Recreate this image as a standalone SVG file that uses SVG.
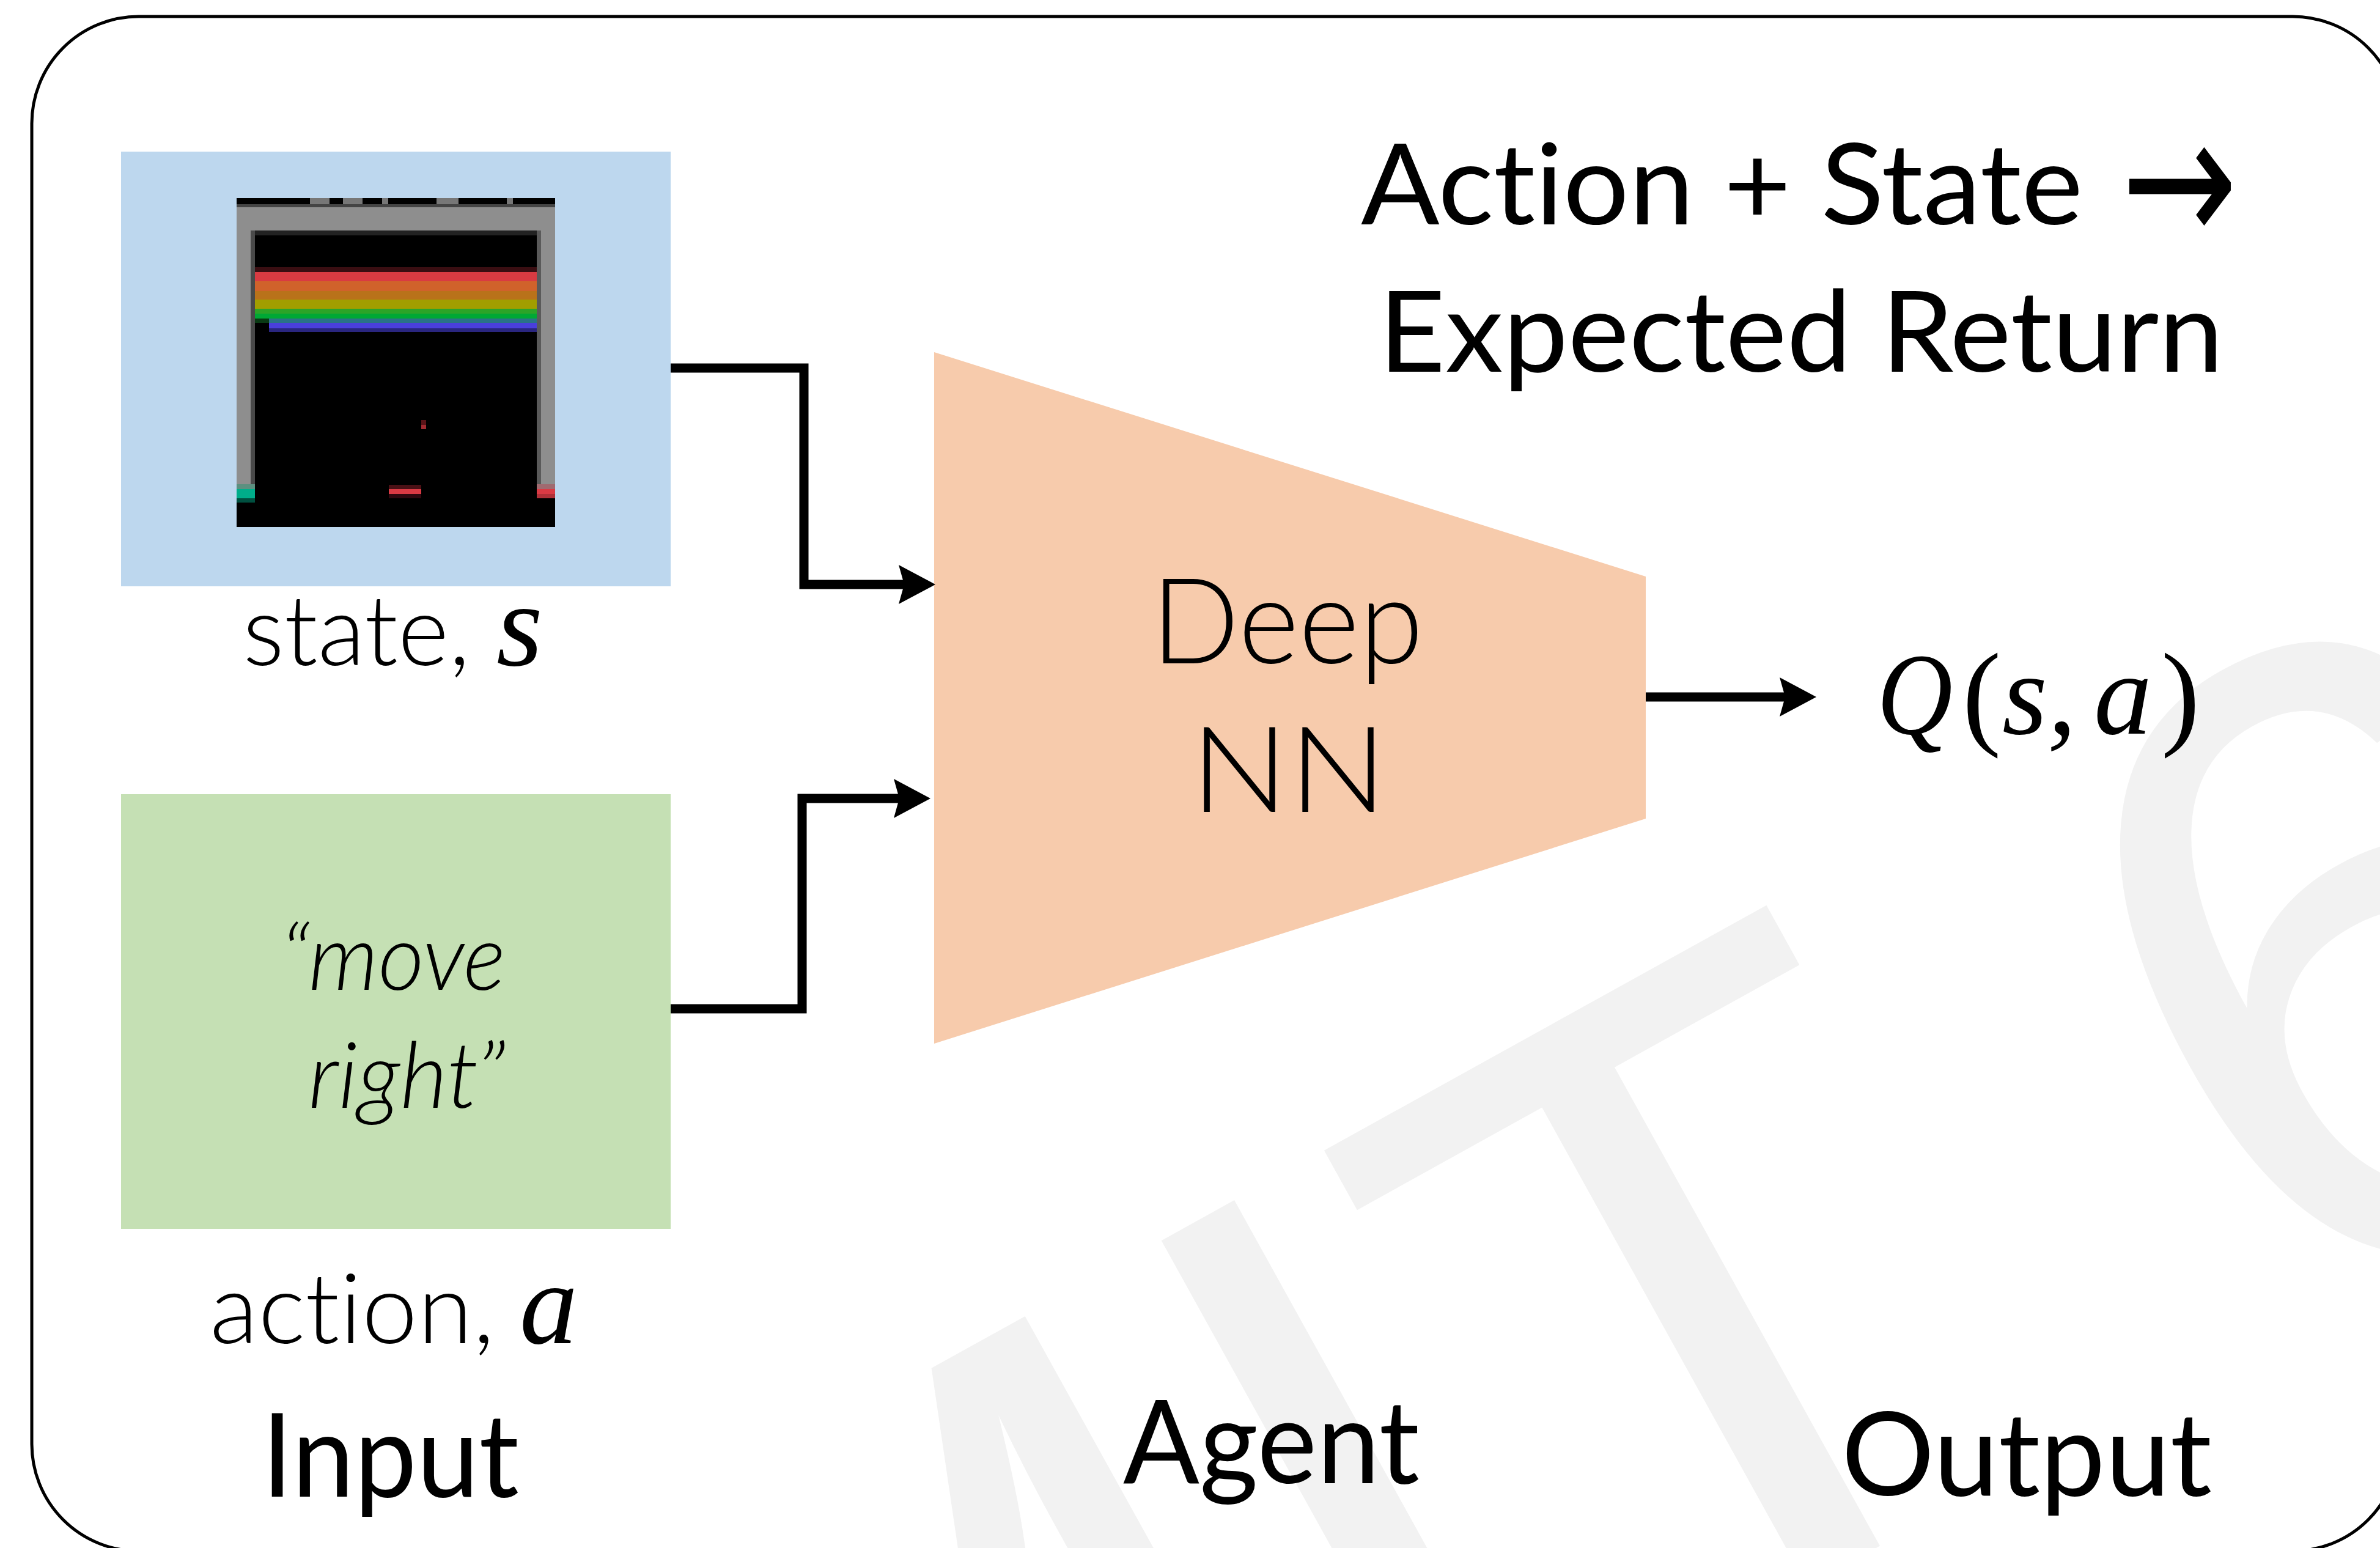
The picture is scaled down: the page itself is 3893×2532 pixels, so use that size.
<svg xmlns="http://www.w3.org/2000/svg" width="3893" height="2532" viewBox="0 0 3893 2532">
<style>
.t{font-family:"Lato","Open Sans",sans-serif;fill:#000;font-variant-ligatures:none}
.l{font-weight:300}
.m{font-family:"Liberation Serif",serif;font-style:italic;fill:#000}
.u{font-family:"Liberation Serif",serif;fill:#000;font-weight:300}
.c{fill:none;stroke:#000;stroke-width:15}
.wm{font-family:"Liberation Sans",sans-serif;fill:#f2f2f2;font-size:1463px}
</style>
<defs>
<marker id="ah" markerUnits="userSpaceOnUse" markerWidth="62" markerHeight="66" refX="20" refY="33" orient="auto">
<path d="M0,1 L60,33 L0,65 L9,33z" fill="#000"/>
</marker>
</defs>
<rect width="3893" height="2532" fill="#fff"/>
<g id="watermark"><text class="wm" transform="translate(716,2686) rotate(-29)" y="1006">MIT <tspan dy="40" dx="-10">6</tspan></text></g>
<g id="frame"><rect x="52" y="27" width="3873" height="2510" rx="175" ry="175" fill="none" stroke="#000" stroke-width="5"/></g>

<g id="state">
<rect x="198" y="248" width="899" height="711" fill="#BDD7EE"/>
<g id="breakout">
<rect x="387" y="324" width="521" height="538" fill="#000"/>
<g fill="#777"><rect x="507" y="324" width="32" height="10"/><rect x="561" y="324" width="32" height="10"/><rect x="625" y="324" width="10" height="10"/><rect x="714" y="324" width="36" height="10"/><rect x="829" y="324" width="10" height="10"/></g>
<rect x="387" y="334" width="521" height="5" fill="#444"/>
<rect x="387" y="339" width="521" height="38" fill="#8e8e8e"/>
<rect x="387" y="377" width="23" height="415" fill="#8e8e8e"/>
<rect x="410" y="377" width="7" height="415" fill="#4a4a4a"/>
<rect x="885" y="377" width="23" height="415" fill="#8e8e8e"/>
<rect x="878" y="377" width="7" height="415" fill="#5a5a5a"/>
<rect x="417" y="377" width="461" height="8" fill="#222"/>
<rect x="417" y="437" width="461" height="8" fill="#3a0e12"/>
<rect x="417" y="445" width="461" height="15" fill="#d93b42"/>
<rect x="417" y="460" width="461" height="16" fill="#d0622b"/>
<rect x="417" y="476" width="461" height="14" fill="#b9721a"/>
<rect x="417" y="490" width="461" height="15" fill="#a29e00"/>
<rect x="417" y="505" width="461" height="8" fill="#2ca428"/>
<rect x="417" y="513" width="461" height="8" fill="#00a835"/>
<rect x="417" y="521" width="23" height="7" fill="#0a3a14"/>
<rect x="440" y="521" width="438" height="7" fill="#2a7288"/>
<rect x="440" y="528" width="438" height="9" fill="#4a3fdc"/>
<rect x="440" y="537" width="438" height="6" fill="#2a2680"/>
<rect x="689" y="687" width="8" height="8" fill="#5a1418"/>
<rect x="689" y="695" width="8" height="7" fill="#a02a30"/>
<rect x="636" y="793" width="53" height="7" fill="#4a1015"/>
<rect x="636" y="800" width="53" height="8" fill="#da3a44"/>
<rect x="636" y="808" width="53" height="7" fill="#300810"/>
<rect x="387" y="792" width="30" height="8" fill="#5c9080"/>
<rect x="387" y="800" width="30" height="15" fill="#00ad8a"/>
<rect x="387" y="815" width="30" height="7" fill="#005040"/>
<rect x="878" y="792" width="30" height="8" fill="#a06a70"/>
<rect x="878" y="800" width="30" height="8" fill="#da3a44"/>
<rect x="878" y="808" width="30" height="7" fill="#b03038"/>
</g>
<text class="t l" x="397" y="1088" font-size="160" textLength="372" lengthAdjust="spacingAndGlyphs">state,</text>
<text class="m" x="812" y="1088" font-size="195">s</text>
</g>

<g id="action">
<rect x="198" y="1299" width="899" height="711" fill="#C5E0B4"/>
<text class="t l" x="459" y="1619" font-size="150" font-style="italic" textLength="368" lengthAdjust="spacingAndGlyphs">“move</text>
<text class="t l" x="504" y="1812" font-size="150" font-style="italic" textLength="323" lengthAdjust="spacingAndGlyphs">right”</text>
<text class="t l" x="343" y="2197" font-size="160" textLength="466" lengthAdjust="spacingAndGlyphs">action,</text>
<text class="m" x="850" y="2197" font-size="190">a</text>
</g>

<g id="agent">
<polygon points="1528,576 2692,943 2692,1339 1528,1707" fill="#F7CBAC"/>
<text class="t l" x="1883" y="1085" font-size="195" textLength="445" lengthAdjust="spacingAndGlyphs">Deep</text>
<text class="t l" x="1947" y="1328" font-size="195" textLength="322" lengthAdjust="spacingAndGlyphs">NN</text>
</g>

<g id="connectors">
<path class="c" d="M1097,602 H1315 V956 H1490" marker-end="url(#ah)"/>
<path class="c" d="M1097,1650 H1312 V1306 H1482" marker-end="url(#ah)"/>
<path class="c" d="M2692,1140 H2931" marker-end="url(#ah)"/>
</g>

<g id="output">
<text x="3070" y="1200" font-size="190" class="m" textLength="124" lengthAdjust="spacingAndGlyphs">Q</text>
<text x="3210" y="1200" font-size="190" class="u">(</text>
<text x="3275" y="1200" font-size="190" class="m">s,</text>
<text x="3425" y="1200" font-size="190" class="m">a</text>
<text x="3535" y="1200" font-size="190" class="u">)</text>
</g>

<g id="labels">
<text class="t" x="2226" y="367" font-size="185" textLength="1181" lengthAdjust="spacingAndGlyphs">Action + State</text>
<text x="3470" y="399" font-size="300" textLength="190" lengthAdjust="spacingAndGlyphs" font-family="DejaVu Sans, sans-serif">→</text>
<text class="t" x="2255" y="608" font-size="185" textLength="1382" lengthAdjust="spacingAndGlyphs">Expected Return</text>
<text class="t" x="428" y="2448" font-size="190" textLength="421" lengthAdjust="spacingAndGlyphs">Input</text>
<text class="t" x="1837" y="2426" font-size="190" textLength="485" lengthAdjust="spacingAndGlyphs">Agent</text>
<text class="t" x="3012" y="2446" font-size="190" textLength="606" lengthAdjust="spacingAndGlyphs">Output</text>
</g>
</svg>
